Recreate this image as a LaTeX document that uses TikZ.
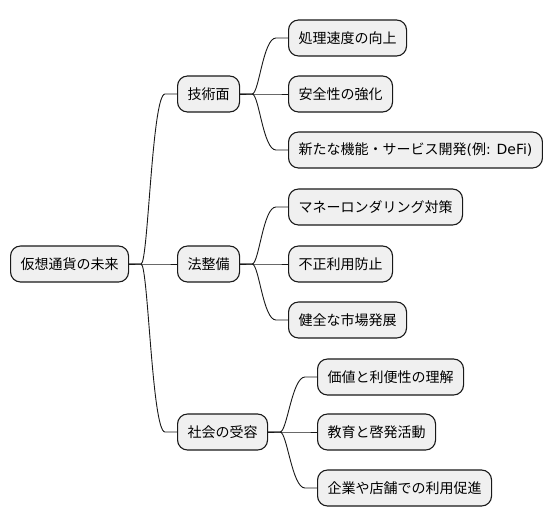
\documentclass[tikz,border=0pt]{standalone}
\usepackage{fontspec}
\setmainfont{Noto Sans CJK JP}
\newfontfamily\latinfont{DejaVu Sans}
\usetikzlibrary{calc}

\tikzset{
  topic/.style={draw=black!90, fill=black!6, line width=1.1pt, rounded corners=10pt,
    anchor=west, minimum height=36pt, inner xsep=10pt, inner ysep=0pt,
    font=\fontsize{14}{17}\selectfont},
  link/.style={line width=0.9pt, black!90}
}

\begin{document}
\begin{tikzpicture}[x=1pt,y=-1pt]
\useasboundingbox (0,0) rectangle (554,527);

% Root
\node[topic] (root) at (10,264) {仮想通貨の未来};

% First level
\node[topic] (tech) at (177,94)  {技術面};
\node[topic] (law)  at (177,264) {法整備};
\node[topic] (soc)  at (177,432) {社会の受容};

% Leaves of tech
\node[topic] (tech1) at (288,38)  {処理速度の向上};
\node[topic] (tech2) at (288,94)  {安全性の強化};
\node[topic] (tech3) at (288,150) {新たな機能・サービス開発{\latinfont(}例{\latinfont: DeFi)}};

% Leaves of law
\node[topic] (law1) at (288,207) {マネーロンダリング対策};
\node[topic] (law2) at (288,264) {不正利用防止};
\node[topic] (law3) at (288,320) {健全な市場発展};

% Leaves of soc
\node[topic] (soc1) at (317,377) {価値と利便性の理解};
\node[topic] (soc2) at (317,432) {教育と啓発活動};
\node[topic] (soc3) at (317,488) {企業や店舗での利用促進};

% Connectors
\foreach \from/\to in {root/tech, root/law, root/soc,
    tech/tech1, tech/tech2, tech/tech3,
    law/law1, law/law2, law/law3,
    soc/soc1, soc/soc2, soc/soc3} {
  \draw[link] (\from.east) -- ++(12,0) .. controls +(7,0) and +(-13,0)
    .. ($(\to.west)+(-12,0)$) -- (\to.west);
}

\end{tikzpicture}
\end{document}
